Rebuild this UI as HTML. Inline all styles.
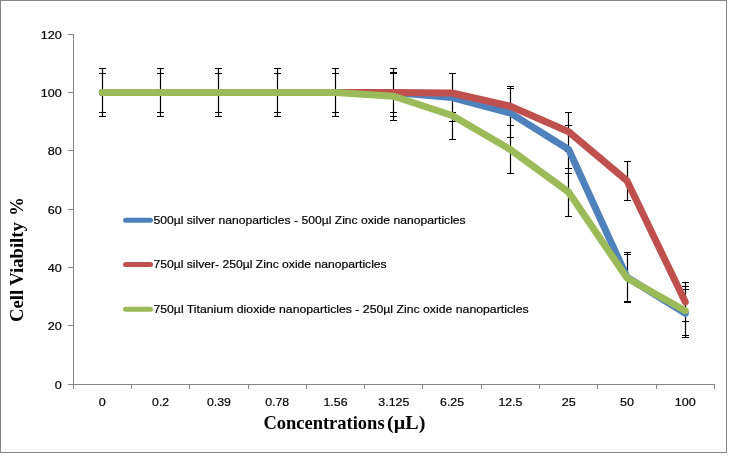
<!DOCTYPE html>
<html lang="en">
<head>
<meta charset="utf-8">
<title>Cell Viability chart</title>
<style>
html,body{margin:0;padding:0;background:#fff;}
body{width:747px;height:472px;overflow:hidden;}
svg{display:block;}
.lab{font-family:"Liberation Sans",sans-serif;font-size:11.6px;fill:#000;stroke:#000;stroke-width:0.2px;}
.ttl{font-family:"Liberation Serif",serif;font-weight:bold;font-size:19.5px;fill:#000;}
</style>
</head>
<body>
<svg width="747" height="472" viewBox="0 0 747 472">
<rect x="0" y="0" width="747" height="472" fill="#fff"/>
<rect x="0.5" y="0.5" width="726" height="452" fill="#fff" stroke="#868686" stroke-width="1"/>

<g stroke="#868686" stroke-width="1" fill="none" shape-rendering="crispEdges">
<line x1="73.5" y1="34.0" x2="73.5" y2="385.0"/>
<line x1="68.0" y1="384.5" x2="715.0" y2="384.5"/>
<line x1="68.0" y1="384.5" x2="73.5" y2="384.5"/>
<line x1="68.0" y1="325.5" x2="73.5" y2="325.5"/>
<line x1="68.0" y1="267.5" x2="73.5" y2="267.5"/>
<line x1="68.0" y1="209.5" x2="73.5" y2="209.5"/>
<line x1="68.0" y1="150.5" x2="73.5" y2="150.5"/>
<line x1="68.0" y1="92.5" x2="73.5" y2="92.5"/>
<line x1="68.0" y1="34.5" x2="73.5" y2="34.5"/>
<line x1="73.5" y1="384.5" x2="73.5" y2="389.0"/>
<line x1="131.5" y1="384.5" x2="131.5" y2="389.0"/>
<line x1="189.5" y1="384.5" x2="189.5" y2="389.0"/>
<line x1="248.5" y1="384.5" x2="248.5" y2="389.0"/>
<line x1="306.5" y1="384.5" x2="306.5" y2="389.0"/>
<line x1="364.5" y1="384.5" x2="364.5" y2="389.0"/>
<line x1="422.5" y1="384.5" x2="422.5" y2="389.0"/>
<line x1="481.5" y1="384.5" x2="481.5" y2="389.0"/>
<line x1="539.5" y1="384.5" x2="539.5" y2="389.0"/>
<line x1="597.5" y1="384.5" x2="597.5" y2="389.0"/>
<line x1="656.5" y1="384.5" x2="656.5" y2="389.0"/>
<line x1="714.5" y1="384.5" x2="714.5" y2="389.0"/>
</g>
<g stroke="#000" stroke-width="1.2" fill="none">
<path d="M102.5 68.0V117.0M99.0 68.5h7M99.0 116.5h7M102.5 73.0V113.0M99.0 73.5h7M99.0 112.5h7"/>
<path d="M160.5 68.0V117.0M157.0 68.5h7M157.0 116.5h7M160.5 73.0V113.0M157.0 73.5h7M157.0 112.5h7"/>
<path d="M218.5 68.0V117.0M215.0 68.5h7M215.0 116.5h7M218.5 73.0V113.0M215.0 73.5h7M215.0 112.5h7"/>
<path d="M277.5 68.0V117.0M274.0 68.5h7M274.0 116.5h7M277.5 73.0V113.0M274.0 73.5h7M274.0 112.5h7"/>
<path d="M335.5 68.0V117.0M332.0 68.5h7M332.0 116.5h7M335.5 73.0V113.0M332.0 73.5h7M332.0 112.5h7"/>
<path d="M393.5 68.0V117.0M390.0 68.5h7M390.0 116.5h7M393.5 73.0V113.0M390.0 73.5h7M390.0 112.5h7M393.5 72.0V121.0M390.0 72.5h7M390.0 120.5h7"/>
<path d="M452.5 73.0V122.0M449.0 73.5h7M449.0 121.5h7M452.5 73.0V113.0M449.0 73.5h7M449.0 112.5h7M452.5 91.0V140.0M449.0 91.5h7M449.0 139.5h7"/>
<path d="M510.5 88.0V138.0M507.0 88.5h7M507.0 137.5h7M510.5 86.0V126.0M507.0 86.5h7M507.0 125.5h7M510.5 125.0V174.0M507.0 125.5h7M507.0 173.5h7"/>
<path d="M568.5 125.0V174.0M565.0 125.5h7M565.0 173.5h7M568.5 112.0V152.0M565.0 112.5h7M565.0 151.5h7M568.5 168.0V217.0M565.0 168.5h7M565.0 216.5h7"/>
<path d="M627.5 252.0V302.0M624.0 252.5h7M624.0 301.5h7M627.5 161.0V201.0M624.0 161.5h7M624.0 200.5h7M627.5 254.0V303.0M624.0 254.5h7M624.0 302.5h7"/>
<path d="M685.5 289.0V338.0M682.0 289.5h7M682.0 337.5h7M685.5 282.0V322.0M682.0 282.5h7M682.0 321.5h7M685.5 286.0V336.0M682.0 286.5h7M682.0 335.5h7"/>
</g>
<polyline points="102.3,92.5 160.6,92.5 218.9,92.5 277.2,92.5 335.5,92.5 393.8,92.5 452.1,97.5 510.4,113.1 568.7,149.5 627.0,277.2 685.3,313.4" fill="none" stroke="#4f81bd" stroke-width="7" stroke-linecap="round" stroke-linejoin="round"/>
<polyline points="102.3,92.5 160.6,92.5 218.9,92.5 277.2,92.5 335.5,92.5 393.8,92.5 452.1,93.0 510.4,106.3 568.7,131.8 627.0,180.8 685.3,302.0" fill="none" stroke="#c0504d" stroke-width="7" stroke-linecap="round" stroke-linejoin="round"/>
<polyline points="102.3,92.5 160.6,92.5 218.9,92.5 277.2,92.5 335.5,92.5 393.8,96.3 452.1,115.5 510.4,149.6 568.7,192.2 627.0,278.0 685.3,310.7" fill="none" stroke="#9bbb59" stroke-width="7" stroke-linecap="round" stroke-linejoin="round"/>
<text class="lab" x="54.8" y="388.5" textLength="7.0" lengthAdjust="spacingAndGlyphs">0</text>
<text class="lab" x="47.8" y="330.2" textLength="14.0" lengthAdjust="spacingAndGlyphs">20</text>
<text class="lab" x="47.8" y="271.8" textLength="14.0" lengthAdjust="spacingAndGlyphs">40</text>
<text class="lab" x="47.8" y="213.5" textLength="14.0" lengthAdjust="spacingAndGlyphs">60</text>
<text class="lab" x="47.8" y="155.2" textLength="14.0" lengthAdjust="spacingAndGlyphs">80</text>
<text class="lab" x="40.8" y="96.8" textLength="21.0" lengthAdjust="spacingAndGlyphs">100</text>
<text class="lab" x="40.8" y="38.5" textLength="21.0" lengthAdjust="spacingAndGlyphs">120</text>
<text class="lab" x="98.8" y="406.3" textLength="7.0" lengthAdjust="spacingAndGlyphs">0</text>
<text class="lab" x="152.1" y="406.3" textLength="17.0" lengthAdjust="spacingAndGlyphs">0.2</text>
<text class="lab" x="206.9" y="406.3" textLength="24.0" lengthAdjust="spacingAndGlyphs">0.39</text>
<text class="lab" x="265.2" y="406.3" textLength="24.0" lengthAdjust="spacingAndGlyphs">0.78</text>
<text class="lab" x="323.5" y="406.3" textLength="24.0" lengthAdjust="spacingAndGlyphs">1.56</text>
<text class="lab" x="378.3" y="406.3" textLength="31.0" lengthAdjust="spacingAndGlyphs">3.125</text>
<text class="lab" x="440.1" y="406.3" textLength="24.0" lengthAdjust="spacingAndGlyphs">6.25</text>
<text class="lab" x="498.4" y="406.3" textLength="24.0" lengthAdjust="spacingAndGlyphs">12.5</text>
<text class="lab" x="561.7" y="406.3" textLength="14.0" lengthAdjust="spacingAndGlyphs">25</text>
<text class="lab" x="620.0" y="406.3" textLength="14.0" lengthAdjust="spacingAndGlyphs">50</text>
<text class="lab" x="674.8" y="406.3" textLength="21.0" lengthAdjust="spacingAndGlyphs">100</text>
<line x1="125.5" y1="220.3" x2="150.5" y2="220.3" stroke="#4f81bd" stroke-width="5" stroke-linecap="round"/>
<text class="lab" x="153.4" y="224.1" textLength="312.3" lengthAdjust="spacingAndGlyphs">500µl silver nanoparticles - 500µl Zinc oxide nanoparticles</text>
<line x1="125.5" y1="264.5" x2="150.5" y2="264.5" stroke="#c0504d" stroke-width="5" stroke-linecap="round"/>
<text class="lab" x="153.4" y="268.3" textLength="233.3" lengthAdjust="spacingAndGlyphs">750µl silver- 250µl Zinc oxide nanoparticles</text>
<line x1="125.5" y1="309.2" x2="150.5" y2="309.2" stroke="#9bbb59" stroke-width="5" stroke-linecap="round"/>
<text class="lab" x="153.4" y="313.0" textLength="375.3" lengthAdjust="spacingAndGlyphs">750µl Titanium dioxide nanoparticles - 250µl Zinc oxide nanoparticles</text>
<text class="ttl" y="428.7"><tspan x="263.4" textLength="121.2" lengthAdjust="spacingAndGlyphs">Concentrations</tspan> <tspan x="387.0" textLength="38.4" lengthAdjust="spacingAndGlyphs">(µL)</tspan></text>
<text class="ttl" transform="translate(23.3 322) rotate(-90)" y="0"><tspan x="0" textLength="99.8" lengthAdjust="spacingAndGlyphs">Cell Viabilty</tspan> <tspan x="106.3" textLength="18.6" lengthAdjust="spacingAndGlyphs">%</tspan></text>
</svg>
</body>
</html>
